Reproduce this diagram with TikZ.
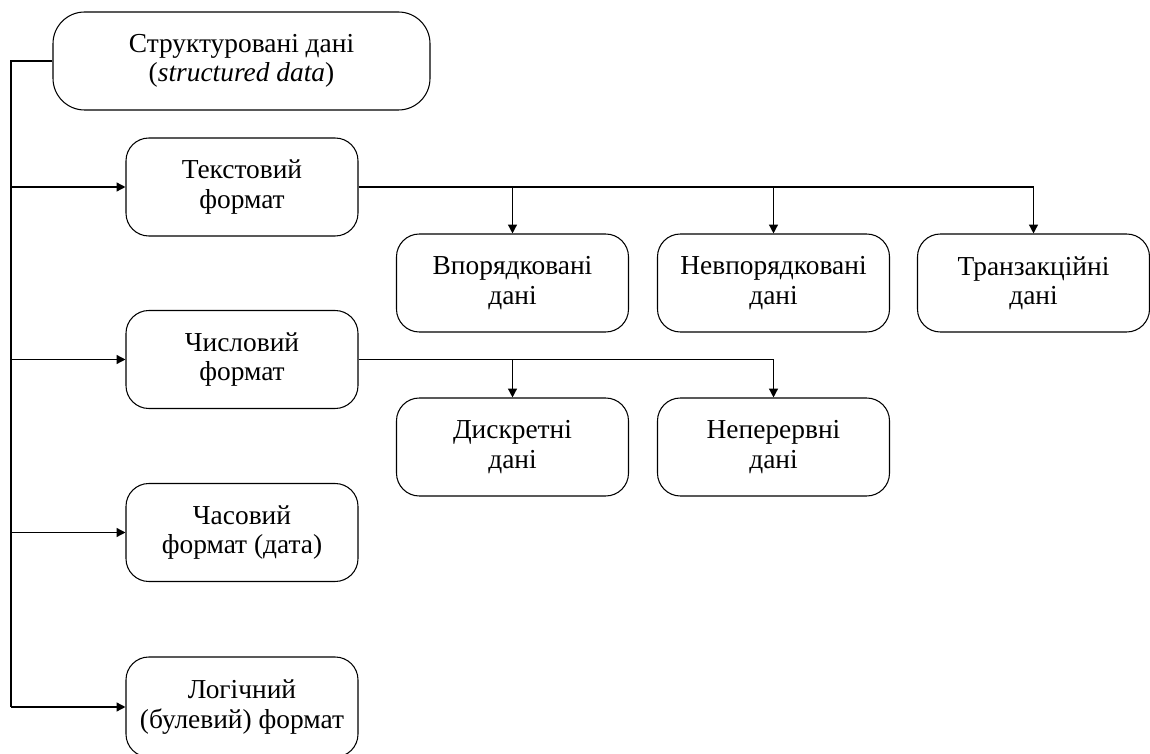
\documentclass[tikz,border=0pt]{standalone}
\usepackage{fontspec}
\setmainfont{Liberation Serif}
\usetikzlibrary{arrows.meta}

\begin{document}
\begin{tikzpicture}[line width=0.8pt, font=\fontsize{15.6}{16.6}\selectfont,
        blok/.style={draw, line width=0.6pt, rounded corners=13pt, align=center,
            minimum width=4.64cm, minimum height=1.96cm, inner sep=2pt},
        strilka/.style={-{Triangle[length=5pt, width=5pt]}}]

        \useasboundingbox (0, 0) rectangle (23, 15.06);

        % --- Кореневий блок ---
        \node[blok, minimum width=7.54cm, rounded corners=18pt] (root) at (4.83, 13.84)
            {Структуровані дані\\(\textit{structured data})};

        % --- Формати (ліва колонка) ---
        \node[blok] (tekst) at (4.84, 11.32) {Текстовий\\формат};
        \node[blok] (chysl) at (4.84, 7.87) {Числовий\\формат};
        \node[blok] (chas)  at (4.84, 4.41) {Часовий\\формат (дата)};
        \node[blok, minimum height=2.0cm] (log) at (4.84, 0.92) {Логічний\\(булевий) формат};

        % --- Види текстових даних ---
        \node[blok] (vpor)   at (10.25, 9.40) {Впорядковані\\дані};
        \node[blok] (nevpor) at (15.47, 9.40) {Невпорядковані\\дані};
        \node[blok] (tranz)  at (20.67, 9.40) {Транзакційні\\дані};

        % --- Види числових даних ---
        \node[blok] (dyskr) at (10.25, 6.12) {Дискретні\\дані};
        \node[blok] (neper) at (15.47, 6.12) {Неперервні\\дані};

        % --- Стовбур зліва ---
        \coordinate (stovbur) at (0.22, 13.84);
        \draw (root.west) -- (stovbur) -- (stovbur |- log.west);
        \foreach \n in {tekst, chysl, chas, log}
            \draw[strilka] (stovbur |- \n.west) -- (\n.west);

        % --- Гілки праворуч ---
        \draw (tekst.east) -- (tekst.east -| tranz.north);
        \foreach \n in {vpor, nevpor, tranz}
            \draw[strilka] (tekst.east -| \n.north) -- (\n.north);

        \draw (chysl.east) -- (chysl.east -| neper.north);
        \foreach \n in {dyskr, neper}
            \draw[strilka] (chysl.east -| \n.north) -- (\n.north);

    \end{tikzpicture}
\end{document}
